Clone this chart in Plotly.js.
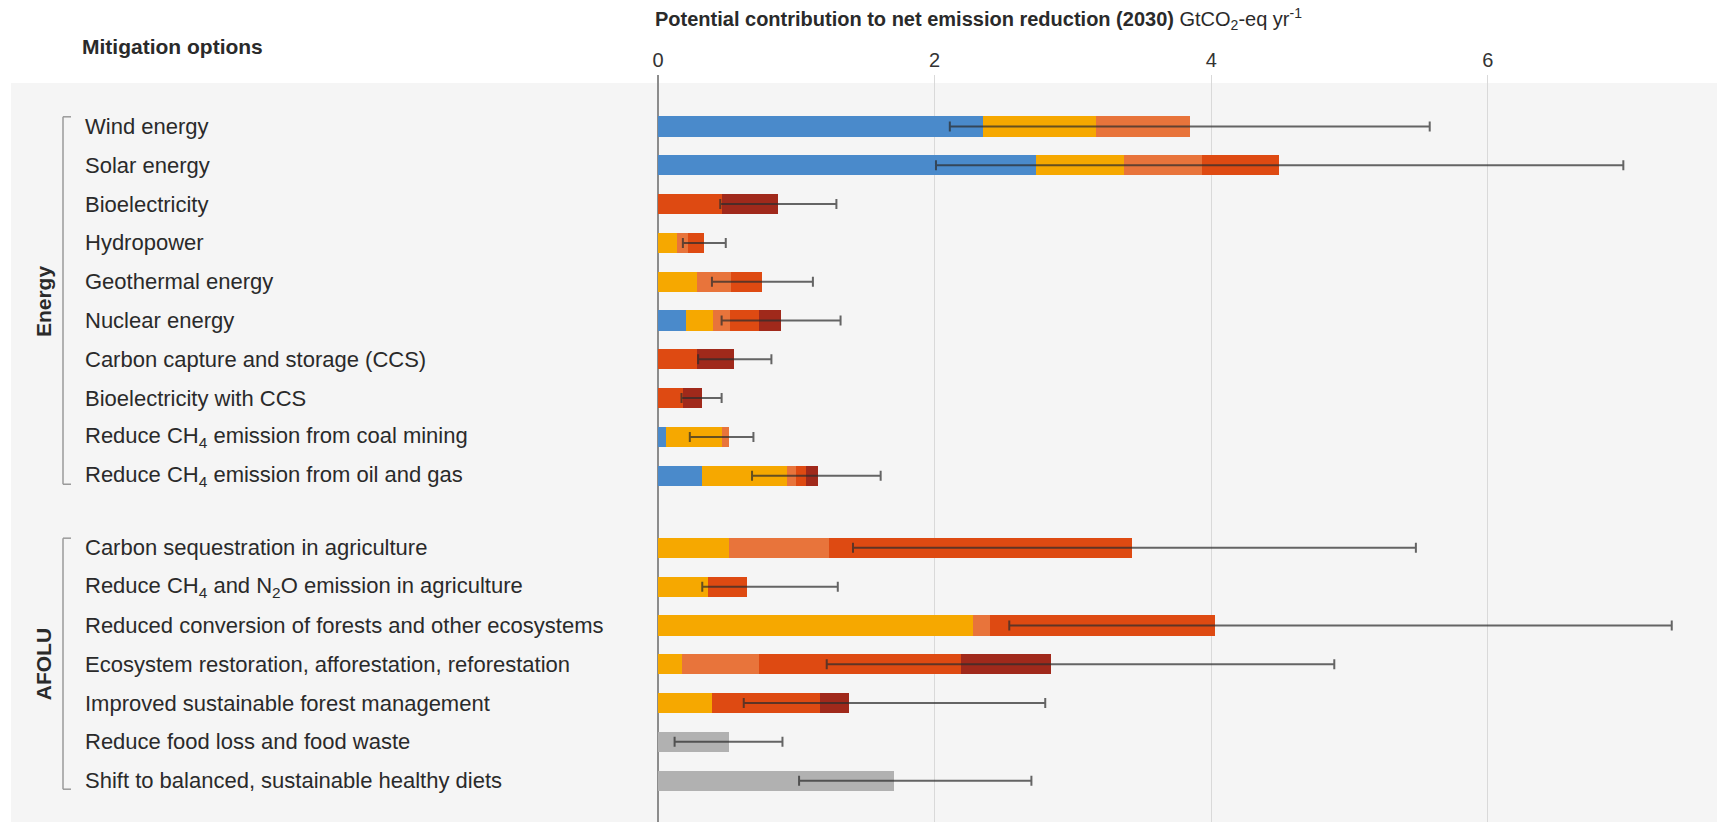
<!DOCTYPE html>
<html>
<head>
<meta charset="utf-8">
<script src="https://cdn.plot.ly/plotly-3.0.1.min.js"></script>
<style>
  html, body { margin: 0; padding: 0; background: #ffffff; }
  #chart { width: 1717px; height: 822px; }
</style>
</head>
<body>
<div id="chart"></div>
<script>
// ---------------- DATA ----------------
const energyOptions = [
  "Wind energy",
  "Solar energy",
  "Bioelectricity",
  "Hydropower",
  "Geothermal energy",
  "Nuclear energy",
  "Carbon capture and storage (CCS)",
  "Bioelectricity with CCS",
  "Reduce CH<sub>4</sub> emission from coal mining",
  "Reduce CH<sub>4</sub> emission from oil and gas"
];
const afoluOptions = [
  "Carbon sequestration in agriculture",
  "Reduce CH<sub>4</sub> and N<sub>2</sub>O emission in agriculture",
  "Reduced conversion of forests and other ecosystems",
  "Ecosystem restoration, afforestation, reforestation",
  "Improved sustainable forest management",
  "Reduce food loss and food waste",
  "Shift to balanced, sustainable healthy diets"
];
const sectorNames = ["Energy", "AFOLU"];

// segment lengths (GtCO2-eq/yr) per cost category, energy options then AFOLU options
const costBelowZero   = [2.35, 2.73, 0,    0,    0,    0.20, 0,    0,    0.06, 0.32,   0,    0,    0,    0,    0,    0,    0   ];
const cost0to20       = [0.82, 0.64, 0,    0.14, 0.28, 0.20, 0,    0,    0.40, 0.61,   0.51, 0.36, 2.28, 0.17, 0.39, 0,    0   ];
const cost20to50      = [0.68, 0.56, 0,    0.08, 0.25, 0.12, 0,    0,    0.05, 0.07,   0.73, 0,    0.12, 0.56, 0,    0,    0   ];
const cost50to100     = [0,    0.56, 0.46, 0.11, 0.22, 0.21, 0.28, 0.18, 0,    0.07,   2.19, 0.28, 1.63, 1.46, 0.78, 0,    0   ];
const cost100to200    = [0,    0,    0.41, 0,    0,    0.16, 0.27, 0.14, 0,    0.09,   0,    0,    0,    0.65, 0.21, 0,    0   ];
const costUnknown     = [0,    0,    0,    0,    0,    0,    0,    0,    0,    0,      0,    0,    0,    0,    0,    0.51, 1.71];

// uncertainty range (low, high)
const rangeLow  = [2.11, 2.01, 0.45, 0.18, 0.39, 0.46, 0.29, 0.17, 0.23, 0.68,   1.41, 0.32, 2.54, 1.22, 0.62, 0.12, 1.02];
const rangeHigh = [5.58, 6.98, 1.29, 0.49, 1.12, 1.32, 0.82, 0.46, 0.69, 1.61,   5.48, 1.30, 7.33, 4.89, 2.80, 0.90, 2.70];

const xTicks = [0, 2, 4, 6];

// ---------------- LAYOUT HELPERS ----------------
const W = 1717, H = 822;
const mL = 11, mR = 0, mT = 75, mB = 0;
const pxPerUnitX = 138.3, x0px = 658;
const rowPx = 38.8, row0px = 126.5;
const groupGap = 1.86;

const allOptions = energyOptions.concat(afoluOptions);
const rowPos = [];
energyOptions.forEach((_, i) => rowPos.push(i));
afoluOptions.forEach((_, j) => rowPos.push(energyOptions.length - 1 + groupGap + j));

const xRange = [(mL - x0px) / pxPerUnitX, (W - mR - x0px) / pxPerUnitX];
const yRange = [(H - mB - row0px) / rowPx, (mT - row0px) / rowPx];
const plotW = W - mL - mR, plotH = H - mT - mB;
const px2paperX = p => (p - mL) / plotW;
const px2paperY = p => (H - mB - p) / plotH;

const series = [
  { v: costBelowZero, c: "#4a8acb" },
  { v: cost0to20,     c: "#f6a800" },
  { v: cost20to50,    c: "#e8743b" },
  { v: cost50to100,   c: "#de4a12" },
  { v: cost100to200,  c: "#a0291b" },
  { v: costUnknown,   c: "#b1b1b1" }
];

const traces = series.map(s => ({
  type: "bar",
  orientation: "h",
  x: s.v,
  y: rowPos,
  width: 0.52,
  marker: { color: s.c, line: { width: 0 } },
  hoverinfo: "skip"
}));

traces.push({
  type: "scatter",
  mode: "markers",
  x: rangeLow.map((lo, i) => (lo + rangeHigh[i]) / 2),
  y: rowPos,
  marker: { size: 1, color: "rgba(0,0,0,0)" },
  error_x: {
    type: "data",
    symmetric: true,
    array: rangeLow.map((lo, i) => (rangeHigh[i] - lo) / 2),
    color: "rgba(45,45,45,0.72)",
    thickness: 2,
    width: 5
  },
  hoverinfo: "skip"
});

const font = "Liberation Sans, Arial, sans-serif";
const annotations = [];
allOptions.forEach((name, i) => {
  annotations.push({
    text: name, xref: "paper", yref: "y",
    x: px2paperX(83), y: rowPos[i],
    xanchor: "left", yanchor: "middle", showarrow: false,
    font: { family: font, size: 22, color: "#2a2a2a" }
  });
});
annotations.push({
  text: "<b>Mitigation options</b>", xref: "paper", yref: "paper",
  x: px2paperX(80), y: px2paperY(47), xanchor: "left", yanchor: "middle",
  showarrow: false, font: { family: font, size: 21, color: "#2a2a2a" }
});

const groups = [
  [0, energyOptions.length - 1],
  [energyOptions.length, allOptions.length - 1]
];
const shapes = [{
  type: "rect", xref: "paper", yref: "paper", layer: "below",
  x0: 0, x1: 1, y0: 0, y1: px2paperY(83),
  fillcolor: "#f5f5f5", line: { width: 0 }
}];
groups.forEach((g, k) => {
  const top = rowPos[g[0]] - 0.25, bot = rowPos[g[1]] + 0.22;
  const xa = px2paperX(63), xb = px2paperX(71);
  shapes.push({ type: "line", xref: "paper", yref: "y", x0: xa, x1: xa, y0: top, y1: bot, line: { color: "#9a9a9a", width: 1.5 } });
  shapes.push({ type: "line", xref: "paper", yref: "y", x0: xa, x1: xb, y0: top, y1: top, line: { color: "#9a9a9a", width: 1.5 } });
  shapes.push({ type: "line", xref: "paper", yref: "y", x0: xa, x1: xb, y0: bot, y1: bot, line: { color: "#9a9a9a", width: 1.5 } });
  annotations.push({
    text: "<b>" + sectorNames[k] + "</b>", xref: "paper", yref: "y",
    x: px2paperX(43), y: (rowPos[g[0]] + rowPos[g[1]]) / 2,
    xanchor: "center", yanchor: "middle", textangle: -90, showarrow: false,
    font: { family: font, size: 21, color: "#2a2a2a" }
  });
});

const layout = {
  width: W, height: H,
  margin: { l: mL, r: mR, t: mT, b: mB, pad: 0 },
  paper_bgcolor: "#ffffff",
  plot_bgcolor: "rgba(0,0,0,0)",
  barmode: "stack",
  bargap: 0,
  showlegend: false,
  hovermode: false,
  title: {
    text: "<b>Potential contribution to net emission reduction (2030)</b> GtCO<sub>2</sub>-eq yr<sup>-1</sup>",
    xref: "container", yref: "container",
    x: 655 / W, y: 1 - 19 / H, xanchor: "left", yanchor: "middle",
    font: { family: font, size: 20, color: "#2a2a2a" }
  },
  xaxis: {
    side: "top", range: xRange, tickvals: xTicks, ticktext: xTicks.map(String),
    showgrid: true, gridcolor: "#d9d9d9", gridwidth: 1,
    zeroline: true, zerolinecolor: "#8c8c8c", zerolinewidth: 2,
    showline: false, ticks: "", ticklabelstandoff: 3,
    tickfont: { family: font, size: 20, color: "#333333" },
    fixedrange: true
  },
  yaxis: {
    range: yRange, showticklabels: false, showgrid: false, zeroline: false,
    showline: false, ticks: "", fixedrange: true
  },
  shapes: shapes,
  annotations: annotations
};

Plotly.newPlot("chart", traces, layout, { displayModeBar: false, staticPlot: true });
</script>
</body>
</html>
